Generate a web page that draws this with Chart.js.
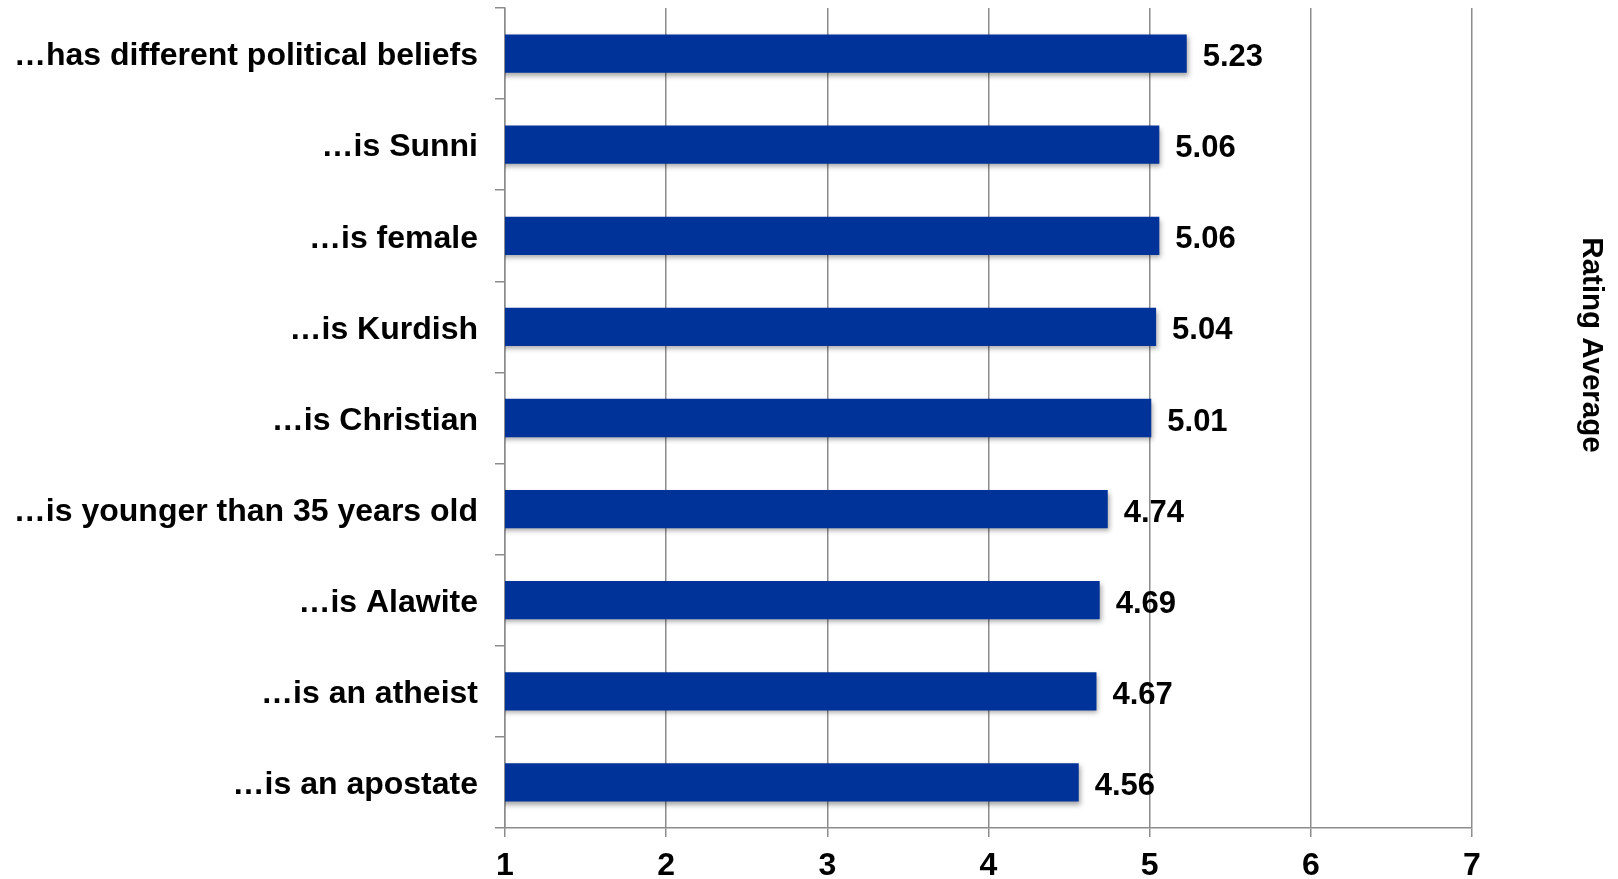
<!DOCTYPE html>
<html>
<head>
<meta charset="utf-8">
<script src="https://cdn.jsdelivr.net/npm/chart.js@4/dist/chart.umd.min.js"></script>
<style>
  html, body { margin: 0; padding: 0; background: #fff; }
  #wrap { width: 1618px; height: 879px; position: relative; }
</style>
</head>
<body>
<div id="wrap"><canvas id="c" width="1618" height="879"></canvas></div>
<script>
const categories = [
  "\u2026has different political beliefs",
  "\u2026is Sunni",
  "\u2026is female",
  "\u2026is Kurdish",
  "\u2026is Christian",
  "\u2026is younger than 35 years old",
  "\u2026is Alawite",
  "\u2026is an atheist",
  "\u2026is an apostate"
];
const ratingAverage = [5.23, 5.06, 5.06, 5.04, 5.01, 4.74, 4.69, 4.67, 4.56];
const xTicks = [1, 2, 3, 4, 5, 6, 7];
const axisTitle = "Rating Average";

const FONT = "'Liberation Sans', Arial, Helvetica, sans-serif";
const GRID = '#8c8c8c';

const shadowPlugin = {
  id: 'barShadow',
  beforeDatasetDraw(chart) {
    const ctx = chart.ctx;
    ctx.save();
    ctx.shadowColor = 'rgba(0,0,0,0.35)';
    ctx.shadowBlur = 5;
    ctx.shadowOffsetX = 2;
    ctx.shadowOffsetY = 3;
  },
  afterDatasetDraw(chart) {
    chart.ctx.restore();
  }
};

const valueLabels = {
  id: 'valueLabels',
  afterDatasetsDraw(chart) {
    const ctx = chart.ctx;
    const meta = chart.getDatasetMeta(0);
    ctx.save();
    ctx.font = "bold 31px " + FONT;
    ctx.fillStyle = '#000';
    ctx.textAlign = 'left';
    ctx.textBaseline = 'middle';
    meta.data.forEach((bar, i) => {
      ctx.fillText(ratingAverage[i].toFixed(2), bar.x + 16, bar.y + 4);
    });
    ctx.restore();
  }
};

const sideTitle = {
  id: 'sideTitle',
  afterDraw(chart) {
    const ctx = chart.ctx;
    ctx.save();
    ctx.translate(1591, 345);
    ctx.rotate(Math.PI / 2);
    ctx.font = "bold 29.5px " + FONT;
    ctx.fillStyle = '#000';
    ctx.textAlign = 'center';
    ctx.textBaseline = 'middle';
    ctx.fillText(axisTitle, 0, 0);
    ctx.restore();
  }
};

new Chart(document.getElementById('c'), {
  type: 'bar',
  data: {
    labels: categories,
    datasets: [{
      label: axisTitle,
      data: ratingAverage,
      backgroundColor: '#003399',
      borderWidth: 0,
      categoryPercentage: 1.0,
      barPercentage: 0.42
    }]
  },
  plugins: [shadowPlugin, valueLabels, sideTitle],
  options: {
    indexAxis: 'y',
    responsive: false,
    animation: false,
    events: [],
    layout: { padding: { top: 8, right: 146, left: 0, bottom: 0 } },
    plugins: {
      legend: { display: false },
      tooltip: { enabled: false }
    },
    scales: {
      x: {
        type: 'linear',
        min: xTicks[0],
        max: xTicks[xTicks.length - 1],
        afterBuildTicks(scale) { scale.ticks = xTicks.map(v => ({ value: v })); },
        afterFit(scale) { scale.height = 51; scale.paddingLeft = 0; scale.paddingRight = 0; },
        grid: { color: GRID, lineWidth: 1.5, tickLength: 9 },
        border: { color: GRID, width: 1.5 },
        ticks: {
          color: '#000',
          padding: 10,
          font: { family: FONT, size: 32, weight: 'bold' }
        }
      },
      y: {
        type: 'category',
        offset: true,
        afterFit(scale) { scale.width = 505; scale.paddingTop = 0; scale.paddingBottom = 0; },
        grid: { drawOnChartArea: false, color: GRID, lineWidth: 1.5, tickLength: 10, offset: true },
        border: { color: GRID, width: 1.5 },
        ticks: {
          color: '#000',
          padding: 17,
          labelOffset: 3,
          font: { family: FONT, size: 32, weight: 'bold' }
        }
      }
    }
  }
});
</script>
</body>
</html>
